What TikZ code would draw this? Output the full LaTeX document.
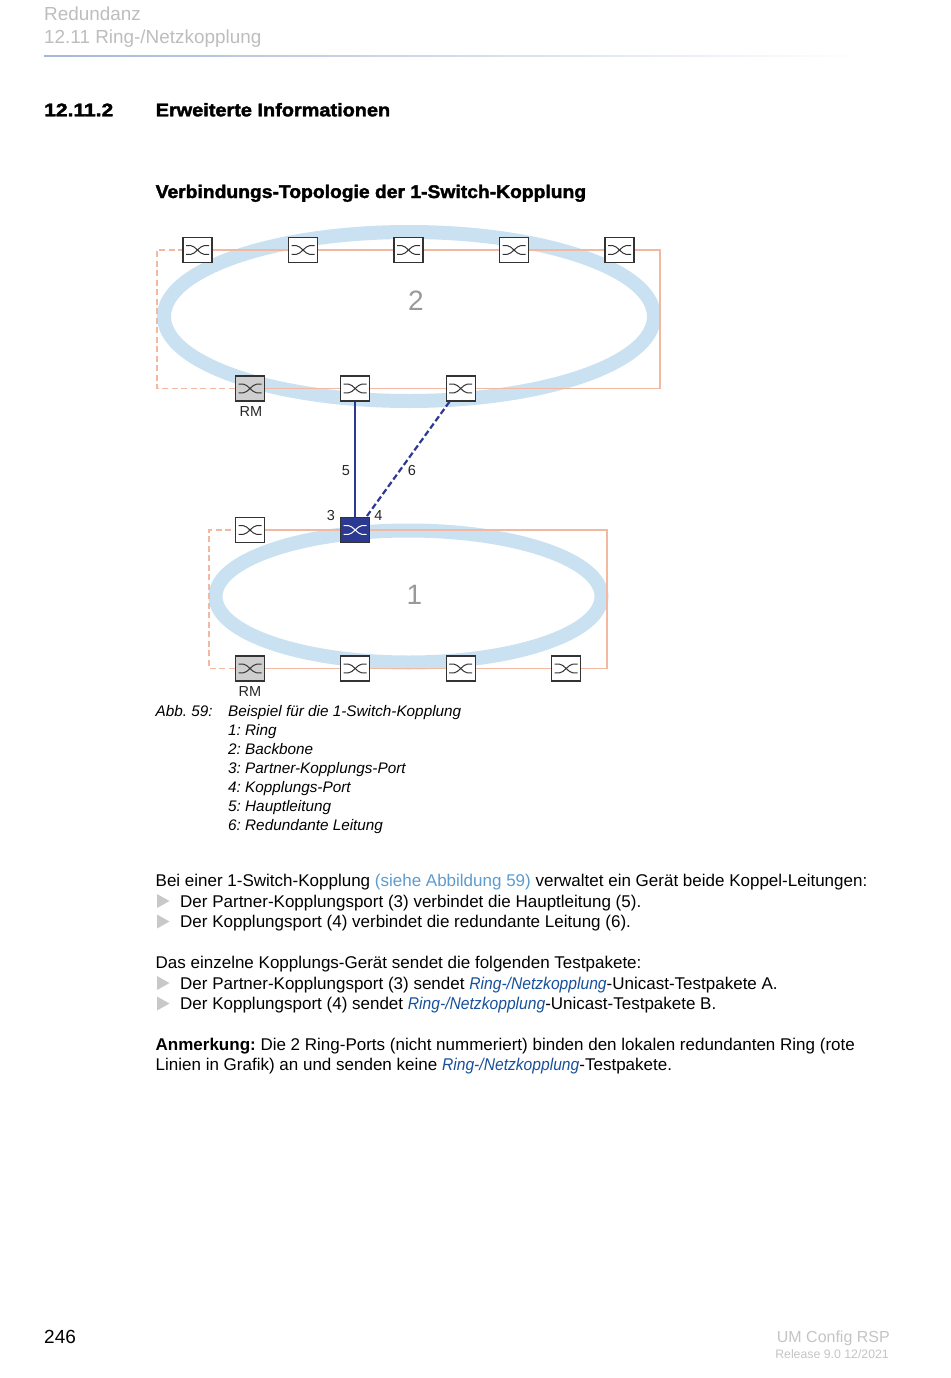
\documentclass[tikz,border=0pt]{standalone}
\usepackage{fontspec}
\setmainfont{Liberation Sans}
\newfontfamily\headfont[FakeBold=2]{Liberation Sans Bold}
\frenchspacing
\usetikzlibrary{backgrounds}
\definecolor{ringblue}{HTML}{C9E1F0}
\definecolor{salmon}{HTML}{F2B8A2}
\definecolor{navyline}{HTML}{2B3990}
\definecolor{swgray}{HTML}{CFCFCF}
\definecolor{hdrgray}{HTML}{BDBDBD}
\definecolor{footgray}{HTML}{C4C4C4}
\definecolor{numgray}{HTML}{999999}
\definecolor{linklight}{HTML}{5B9BD0}
\definecolor{linkdark}{HTML}{17509A}
\definecolor{bulletgray}{HTML}{C8C8C8}
\definecolor{symdark}{HTML}{333333}
\definecolor{rulecol}{HTML}{A6B8D8}
\tikzset{
  x=1pt,y=-1pt,
  swbase/.style={draw=symdark,line width=1.4pt,rectangle,minimum width=29pt,minimum height=25pt,inner sep=0pt,
    path picture={\draw[#1,line width=1pt]
      ([shift={(-11.5pt,-4.3pt)}]path picture bounding box.center) -- ++(5pt,0pt) .. controls +(4pt,0pt) and +(-4pt,0pt) .. ++(13pt,8.6pt) -- ++(5pt,0pt);
      \draw[#1,line width=1pt]
      ([shift={(-11.5pt,4.3pt)}]path picture bounding box.center) -- ++(5pt,0pt) .. controls +(4pt,0pt) and +(-4pt,0pt) .. ++(13pt,-8.6pt) -- ++(5pt,0pt);}},
  sw/.style={swbase=symdark,fill=white},
  swrm/.style={swbase=symdark,fill=swgray},
  swcpl/.style={swbase=white,fill=navyline},
  ring/.style={draw=ringblue,line width=14pt},
  redund/.style={draw=salmon,line width=1.3pt},
  redundd/.style={redund,dash pattern=on 6pt off 3.5pt},
  txt/.style={anchor=base west,inner sep=0pt,font=\fontsize{17}{19}\selectfont,text=black},
  captxt/.style={txt,font=\fontsize{15.3}{18}\selectfont\itshape},
  lbl/.style={anchor=center,inner sep=0pt,font=\fontsize{14.5}{16}\selectfont,text=black!85},
  bignum/.style={anchor=center,inner sep=0pt,font=\fontsize{28}{30}\selectfont,text=numgray},
  hdr/.style={anchor=base west,inner sep=0pt,font=\fontsize{18.9}{20}\selectfont,text=hdrgray},
  head/.style={anchor=base west,inner sep=0pt,font=\fontsize{18.3}{20}\headfont\selectfont,text=black},
  bul/.style={fill=bulletgray},
}
\newcommand{\lk}[1]{\textcolor{linkdark}{\scalebox{0.92}[1]{\itshape #1}}}
\begin{document}
\begin{tikzpicture}
\useasboundingbox (0,0) rectangle (950,1378);
% header
\node[hdr] (h1) at (44,20.5) {Redundanz};
\node[hdr] (h2) at (44,43.5) {12.11 Ring-/Netzkopplung};
\shade[left color=rulecol,right color=white] (44,55.3) rectangle (865,56.2);
\node[head] (t1) at (44,116.3) {\scalebox{1.15}[1]{12.11.2}};
\node[head] (t2) at (155.5,116.3) {\scalebox{1.088}[1]{Erweiterte Informationen}};
\node[head] (t3) at (155.5,198) {\scalebox{1.054}[1]{Verbindungs-Topologie der 1-Switch-Kopplung}};
% switches
\node[sw] (a1) at (197.5,250) {};
\node[sw] (a2) at (303,250) {};
\node[sw] (a3) at (408.5,250) {};
\node[sw] (a4) at (514,250) {};
\node[sw] (a5) at (619.5,250) {};
\node[swrm] (a6) at (250,388.5) {};
\node[sw] (a7) at (355.2,388.5) {};
\node[sw] (a8) at (460.7,388.5) {};
\node[sw] (b1) at (250,530) {};
\node[swcpl] (b2) at (355.2,530) {};
\node[swrm] (b3) at (250,668.5) {};
\node[sw] (b4) at (355.2,668.5) {};
\node[sw] (b5) at (460.7,668.5) {};
\node[sw] (b6) at (566.2,668.5) {};
\begin{pgfonlayer}{background}
\draw[ring] (409,316.5) ellipse [x radius=245,y radius=84.5];
\draw[ring] (408.5,596.5) ellipse [x radius=193,y radius=66];
\draw[redund] (a1) -- (a2);
\draw[redund] (a2) -- (a3);
\draw[redund] (a3) -- (a4);
\draw[redund] (a4) -- (a5);
\draw[redund] (a5.east) -- (660,250) -- (660,388.5) -- (a8.east);
\draw[redund] (a8) -- (a7);
\draw[redund] (a7) -- (a6);
\draw[redundd] (a6.west) -- (157,388.5) -- (157,250) -- (a1.west);
\draw[redund] (b1) -- (b2);
\draw[redund] (b2.east) -- (607,530) -- (607,668.5) -- (b6.east);
\draw[redund] (b6) -- (b5);
\draw[redund] (b5) -- (b4);
\draw[redund] (b4) -- (b3);
\draw[redundd] (b3.west) -- (209,668.5) -- (209,530) -- (b1.west);
\end{pgfonlayer}
\draw[navyline,line width=2pt] (a7.south) -- (b2.north);
\draw[navyline,line width=2.2pt,dash pattern=on 6pt off 3pt] ([xshift=4pt]a8.south west) -- ([xshift=-4pt]b2.north east);
% labels
\node[bignum] (n2) at (416,301) {2};
\node[bignum] (n1) at (414.5,595) {1};
\node[lbl] (rm2) at (251,411.5) {RM};
\node[lbl] (rm1) at (250,691.5) {RM};
\node[lbl] (l5) at (346,470.5) {5};
\node[lbl] (l6) at (412,470.5) {6};
\node[lbl] (l3) at (331,515.5) {3};
\node[lbl] (l4) at (378.5,515.5) {4};
% caption
\node[captxt] (c0) at (155.5,716.5) {Abb. 59:};
\node[captxt] (c1) at (228,716.5) {Beispiel für die 1-Switch-Kopplung};
\node[captxt] (c2) at (228,735.5) {1: Ring};
\node[captxt] (c3) at (228,754.5) {2: Backbone};
\node[captxt] (c4) at (228,773.5) {3: Partner-Kopplungs-Port};
\node[captxt] (c5) at (228,792.5) {4: Kopplungs-Port};
\node[captxt] (c6) at (228,811) {5: Hauptleitung};
\node[captxt] (c7) at (228,830) {6: Redundante Leitung};
% body
\node[txt] (p1) at (155.5,886.5) {Bei einer 1-Switch-Kopplung \textcolor{linklight}{(siehe Abbildung 59)} verwaltet ein Gerät beide Koppel-Leitungen:};
\node[txt] (p2) at (180,907) {Der Partner-Kopplungsport (3) verbindet die Hauptleitung (5).};
\node[txt] (p3) at (180,927.5) {Der Kopplungsport (4) verbindet die redundante Leitung (6).};
\node[txt] (p4) at (155.5,968) {Das einzelne Kopplungs-Gerät sendet die folgenden Testpakete:};
\node[txt] (p5) at (180,989) {Der Partner-Kopplungsport (3) sendet \lk{Ring-/Netzkopplung}-Unicast-Testpakete A.};
\node[txt] (p6) at (180,1009.5) {Der Kopplungsport (4) sendet \lk{Ring-/Netzkopplung}-Unicast-Testpakete B.};
\node[txt] (p7) at (155.5,1050.5) {\textbf{Anmerkung:} Die 2 Ring-Ports (nicht nummeriert) binden den lokalen redundanten Ring (rote};
\node[txt] (p8) at (155.5,1070.5) {Linien in Grafik) an und senden keine \lk{Ring-/Netzkopplung}-Testpakete.};
% bullets
\foreach \y in {901,921.5,983,1003.5}
  \fill[bul] (157,\y-7) -- (169.5,\y) -- (157,\y+7) -- cycle;
% footer
\node[anchor=base west,inner sep=0pt,font=\fontsize{19}{20}\selectfont] (pg) at (44,1343) {246};
\node[anchor=base east,inner sep=0pt,font=\fontsize{16}{18}\selectfont,text=footgray] (f1) at (890,1342) {UM Config RSP};
\node[anchor=base east,inner sep=0pt,font=\fontsize{12.3}{14}\selectfont,text=footgray] (f2) at (889,1358) {Release 9.0 12/2021};
\end{tikzpicture}
\end{document}
